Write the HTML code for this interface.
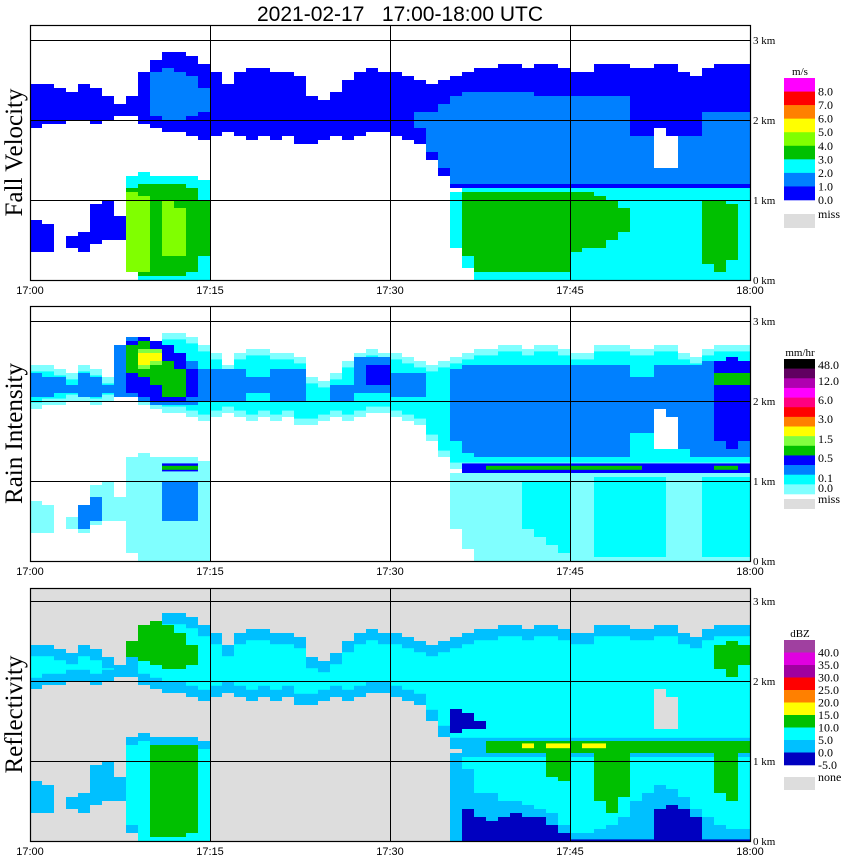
<!DOCTYPE html>
<html><head><meta charset="utf-8"><style>
body{margin:0;background:#fff;}
svg{display:block;}
</style></head><body>
<svg id="chart" width="850" height="868" xmlns="http://www.w3.org/2000/svg">
<text x="400" y="21" text-anchor="middle" font-family="Liberation Sans, sans-serif" font-size="21" fill="#000" xml:space="preserve" style="white-space:pre">2021-02-17   17:00-18:00 UTC</text>
<g id="panels"></g>
</svg>
<script>
// ---- data (minute bins 0..59, heights in km) ----
const timeLabels = ["17:00","17:15","17:30","17:45","18:00"];
const kmLabels = ["0 km","1 km","2 km","3 km"];
const upTop = [2.45,2.45,2.4,2.35,2.45,2.4,2.3,2.2,2.3,2.6, 2.75,2.85,2.85,2.8,2.7,2.6,2.45,2.6,2.65,2.65, 2.6,2.6,2.55,2.3,2.25,2.35,2.5,2.6,2.65,2.6, 2.6,2.55,2.5,2.45,2.5,2.55,2.6,2.65,2.65,2.7, 2.7,2.65,2.7,2.7,2.65,2.6,2.6,2.7,2.7,2.7, 2.65,2.65,2.7,2.7,2.6,2.55,2.65,2.7,2.7,2.7];
const upBot = [1.9,1.95,1.95,2.0,2.0,1.95,2.0,2.05,2.05,1.95, 1.9,1.85,1.85,1.8,1.75,1.8,1.85,1.8,1.75,1.8, 1.75,1.8,1.7,1.7,1.75,1.8,1.75,1.8,1.85,1.85, 1.8,1.75,1.7,1.5,1.3,1.15,1.15,1.15,1.15,1.15, 1.15,1.15,1.15,1.15,1.15,1.15,1.15,1.15,1.15,1.15, 1.15,1.15,1.15,1.15,1.15,1.15,1.15,1.15,1.15,1.15];
const holeTop = [0,0,0,0,0,0,0,0,0,0, 0,0,0,0,0,0,0,0,0,0, 0,0,0,0,0,0,0,0,0,0, 0,0,0,0,0,0,0,0,0,0, 0,0,0,0,0,0,0,0,0,0, 0,0,1.9,1.8,0,0,0,0,0,0];
const holeBot = [0,0,0,0,0,0,0,0,0,0, 0,0,0,0,0,0,0,0,0,0, 0,0,0,0,0,0,0,0,0,0, 0,0,0,0,0,0,0,0,0,0, 0,0,0,0,0,0,0,0,0,0, 0,0,1.4,1.4,0,0,0,0,0,0];
const blobTop = [0.75,0.7,0,0.55,0.6,0.95,1.0,0.8];
const blobBot = [0.35,0.35,0,0.4,0.35,0.45,0.5,0.5];
const loTop = [0,0,0,0,0,0,0,0,1.3,1.35, 1.3,1.3,1.3,1.3,1.25,0,0,0,0,0, 0,0,0,0,0,0,0,0,0,0, 0,0,0,0,0,1.1,1.15,1.15,1.15,1.15, 1.15,1.15,1.15,1.15,1.15,1.15,1.15,1.15,1.15,1.15, 1.15,1.15,1.15,1.15,1.15,1.15,1.15,1.15,1.15,1.15];
const loBot = [0,0,0,0,0,0,0,0,0.1,0, 0,0,0,0,0,0,0,0,0,0, 0,0,0,0,0,0,0,0,0,0, 0,0,0,0,0,0.4,0.15,0,0,0, 0,0,0,0,0,0,0,0,0,0, 0,0,0,0,0,0,0,0,0,0];
// fall velocity
const fvMidTop = [0,0,0,0,0,0,0,0,0,0, 2.6,2.65,2.6,2.55,2.4,0,0,0,0,0, 0,0,0,0,0,0,0,0,0,0, 0,0,2.1,2.1,2.2,2.3,2.35,2.35,2.35,2.35, 2.35,2.35,2.3,2.3,2.3,2.3,2.3,2.3,2.3,2.3, 1.8,1.8,1.8,1.8,1.8,1.8,2.1,2.1,2.1,2.1];
const fvMidBot = [0,0,0,0,0,0,0,0,0,0, 2.05,2.0,2.0,2.05,2.1,0,0,0,0,0, 0,0,0,0,0,0,0,0,0,0, 0,0,1.9,1.6,1.4,1.2,1.2,1.2,1.2,1.2, 1.2,1.2,1.2,1.2,1.2,1.2,1.2,1.2,1.2,1.2, 1.2,1.2,1.2,1.2,1.2,1.2,1.2,1.2,1.2,1.2];
const fvGreenTop = [0,0,0,0,0,0,0,0,1.15,1.2, 1.2,1.2,1.2,1.15,1.0,0,0,0,0,0, 0,0,0,0,0,0,0,0,0,0, 0,0,0,0,0,0,1.1,1.1,1.1,1.1, 1.1,1.1,1.1,1.1,1.1,1.1,1.1,1.05,1.0,0.9, 0,0,0,0,0,0,1.0,1.0,0.95,0];
const fvGreenBot = [0,0,0,0,0,0,0,0,0.1,0.05, 0.05,0.05,0.05,0.1,0.3,0,0,0,0,0, 0,0,0,0,0,0,0,0,0,0, 0,0,0,0,0,0,0.3,0.1,0.1,0.1, 0.1,0.1,0.1,0.1,0.1,0.35,0.4,0.4,0.5,0.6, 0,0,0,0,0,0,0.2,0.1,0.25,0];
const fvLgTop = [0,0,0,0,0,0,0,0,1.1,1.05, 0,1.0,0.9,0,0];
const fvLgBot = [0,0,0,0,0,0,0,0,0.1,0.1, 0,0.3,0.3,0,0];
// rain intensity
const rMidTop = [2.35,2.3,2.3,2.2,2.35,2.3,2.2,2.7,2.8,2.8, 2.75,2.7,2.6,2.5,2.4,2.4,2.4,2.4,2.3,2.3, 2.4,2.4,2.4,0,0,2.2,2.2,2.55,2.55,2.55, 2.35,2.35,2.35,0,0,2.4,2.45,2.45,2.45,2.45, 2.45,2.45,2.45,2.45,2.45,2.45,2.45,2.45,2.45,2.45, 2.3,2.3,2.45,2.45,2.45,2.45,2.5,2.5,2.5,2.5];
const rMidBot = [2.05,2.05,2.1,2.1,2.05,2.05,2.1,2.05,2.05,2.0, 1.95,1.95,1.95,1.95,2.0,2.0,2.0,2.0,2.1,2.1, 2.0,2.0,2.0,0,0,2.0,2.0,2.1,2.1,2.1, 2.05,2.05,2.05,0,0,1.5,1.35,1.3,1.3,1.3, 1.3,1.3,1.3,1.3,1.3,1.3,1.3,1.3,1.3,1.3, 1.6,1.6,1.6,1.6,1.4,1.3,1.3,1.3,1.3,1.3];
const rBlueTop = [0,0,0,0,0,0,0,0,2.75,2.8, 2.75,2.7,2.6,2.4,0,0,0,0,0,0, 0,0,0,0,0,0,0,0,2.45,2.45, 0,0,0,0,0,0,0,0,0,0, 0,0,0,0,0,0,0,0,0,0, 0,0,0,0,0,0,0,2.5,2.55,2.5];
const rBlueBot = [0,0,0,0,0,0,0,0,2.1,2.05, 2.0,2.0,2.0,2.05,0,0,0,0,0,0, 0,0,0,0,0,0,0,0,2.2,2.2, 0,0,0,0,0,0,0,0,0,0, 0,0,0,0,0,0,0,0,0,0, 0,0,0,0,0,0,0,1.5,1.4,1.5];
const rGreenTop = [0,0,0,0,0,0,0,0,2.7,2.75, 2.6,2.5,2.4,0,0,0,0,0,0,0, 0,0,0,0,0,0,0,0,0,0, 0,0,0,0,0,0,0,0,0,0, 0,0,0,0,0,0,0,0,0,0, 0,0,0,0,0,0,0,2.35,2.35,2.35];
const rGreenBot = [0,0,0,0,0,0,0,0,2.35,2.3, 2.2,2.05,2.05,0,0,0,0,0,0,0, 0,0,0,0,0,0,0,0,0,0, 0,0,0,0,0,0,0,0,0,0, 0,0,0,0,0,0,0,0,0,0, 0,0,0,0,0,0,0,2.2,2.2,2.2];
const rYellowTop = [0,0,0,0,0,0,0,0,0,2.6,2.6];
const rYellowBot = [0,0,0,0,0,0,0,0,0,2.45,2.5];
const lineTop = [0,0,0,0,0,0,0,0,0,0, 0,1.22,1.22,1.22,0,0,0,0,0,0, 0,0,0,0,0,0,0,0,0,0, 0,0,0,0,0,0,1.22,1.22,1.22,1.22, 1.22,1.22,1.22,1.22,1.22,1.22,1.22,1.22,1.22,1.22, 1.22,1.22,1.22,1.22,1.22,1.22,1.22,1.22,1.22,1.22];
const lineBot = [0,0,0,0,0,0,0,0,0,0, 0,1.12,1.12,1.12,0,0,0,0,0,0, 0,0,0,0,0,0,0,0,0,0, 0,0,0,0,0,0,1.1,1.1,1.1,1.1, 1.1,1.1,1.1,1.1,1.1,1.1,1.1,1.1,1.1,1.1, 1.1,1.1,1.1,1.1,1.1,1.1,1.1,1.1,1.1,1.1];
const lineCoreTop = [0,0,0,0,0,0,0,0,0,0, 0,1.19,1.19,1.19,0,0,0,0,0,0, 0,0,0,0,0,0,0,0,0,0, 0,0,0,0,0,0,0,0,1.19,1.19, 1.19,1.19,1.19,1.19,1.19,1.19,1.19,1.19,1.19,1.19, 1.19,0,0,0,0,0,0,1.19,1.19,0];
const lineCoreBot = [0,0,0,0,0,0,0,0,0,0, 0,1.14,1.14,1.14,0,0,0,0,0,0, 0,0,0,0,0,0,0,0,0,0, 0,0,0,0,0,0,0,0,1.14,1.14, 1.14,1.14,1.14,1.14,1.14,1.14,1.14,1.14,1.14,1.14, 1.14,0,0,0,0,0,0,1.14,1.14,0];
const rLoCyanTop = [0,0,0,0,0,0,0,0,0,0, 0,0,0,0,0,0,0,0,0,0, 0,0,0,0,0,0,0,0,0,0, 0,0,0,0,0,0,0,0,0,0, 0,1.0,1.0,1.0,1.0,0,0,1.05,1.05,1.05, 1.05,1.05,1.05,0,0,0,1.05,1.05,1.05,1.05];
const rLoCyanBot = [0,0,0,0,0,0,0,0,0,0, 0,0,0,0,0,0,0,0,0,0, 0,0,0,0,0,0,0,0,0,0, 0,0,0,0,0,0,0,0,0,0, 0,0.4,0.3,0.2,0.1,0,0,0.05,0.05,0.05, 0.05,0.05,0.05,0,0,0,0.05,0.05,0.05,0.05];
const rLoMidTop = [0,0,0,0,0.7,0.8,0,0,0,0, 0,1.0,1.0,1.0,0];
const rLoMidBot = [0,0,0,0,0.4,0.5,0,0,0,0, 0,0.5,0.5,0.5,0];
// reflectivity
const zDkTop = [0,0,0,0,0,0,0,0,0,0, 0,0,0,0,0,0,0,0,0,0, 0,0,0,0,0,0,0,0,0,0, 0,0,0,0,0,1.65,1.6,1.5,0,0, 0,0,0,0,0,0,0,0,0,0, 0,0,0,0,0,0,0,0,0,0];
const zDkBot = [0,0,0,0,0,0,0,0,0,0, 0,0,0,0,0,0,0,0,0,0, 0,0,0,0,0,0,0,0,0,0, 0,0,0,0,0,1.35,1.4,1.4,0,0, 0,0,0,0,0,0,0,0,0,0, 0,0,0,0,0,0,0,0,0,0];
const zGreenUpTop = [0,0,0,0,0,0,0,0,2.5,2.7, 2.75,2.7,2.6,2.45,0,0,0,0,0,0, 0,0,0,0,0,0,0,0,0,0, 0,0,0,0,0,0,0,0,0,0, 0,0,0,0,0,0,0,0,0,0, 0,0,0,0,0,0,0,2.45,2.5,2.45];
const zGreenUpBot = [0,0,0,0,0,0,0,0,2.3,2.25, 2.2,2.15,2.15,2.2,0,0,0,0,0,0, 0,0,0,0,0,0,0,0,0,0, 0,0,0,0,0,0,0,0,0,0, 0,0,0,0,0,0,0,0,0,0, 0,0,0,0,0,0,0,2.15,2.05,2.2];
const zGreenLoTop = [0,0,0,0,0,0,0,0,0,0, 1.2,1.2,1.2,1.2,0,0,0,0,0,0, 0,0,0,0,0,0,0,0,0,0, 0,0,0,0,0,0,0,0,1.25,1.25, 1.25,1.25,1.25,1.25,1.25,1.25,1.25,1.25,1.25,1.25, 1.25,1.25,1.25,1.25,1.25,1.25,1.25,1.25,1.25,1.25];
const zGreenLoBot = [0,0,0,0,0,0,0,0,0,0, 0.05,0.05,0.05,0.1,0,0,0,0,0,0, 0,0,0,0,0,0,0,0,0,0, 0,0,0,0,0,0,0,0,1.1,1.1, 1.1,1.1,1.1,0.8,0.75,1.1,1.1,0.5,0.35,0.55, 1.1,1.1,1.1,1.1,1.1,1.1,1.1,0.6,0.5,1.1];
const zYellowTop = [0,0,0,0,0,0,0,0,0,0, 0,0,0,0,0,0,0,0,0,0, 0,0,0,0,0,0,0,0,0,0, 0,0,0,0,0,0,0,0,0,0, 0,1.22,0,1.22,1.22,0,1.22,1.22,0,0];
const zYellowBot = [0,0,0,0,0,0,0,0,0,0, 0,0,0,0,0,0,0,0,0,0, 0,0,0,0,0,0,0,0,0,0, 0,0,0,0,0,0,0,0,0,0, 0,1.16,0,1.16,1.16,0,1.16,1.16,0,0];
const zLbLoTop = [0,0,0,0,0,0,0,0,0,0, 0,0,0,0,0,0,0,0,0,0, 0,0,0,0,0,0,0,0,0,0, 0,0,0,0,0,1.1,0.9,0.6,0.6,0.5, 0.5,0.45,0.4,0.35,0.2,0.1,0.1,0.15,0.2,0.3, 0.5,0.6,0.7,0.65,0.55,0.4,0.3,0.2,0.15,0.15];
const zDkLoTop = [0,0,0,0,0,0,0,0,0,0, 0,0,0,0,0,0,0,0,0,0, 0,0,0,0,0,0,0,0,0,0, 0,0,0,0,0,0,0.4,0.3,0.25,0.3, 0.35,0.3,0.3,0.2,0.1,0.02,0.02,0.02,0.02,0.02, 0.02,0.02,0.4,0.45,0.4,0.3,0.02,0.02,0.02,0.02];

// ---- rendering ----
const NS = "http://www.w3.org/2000/svg";
const root = document.getElementById('panels');
const X0 = 30, X1 = 750, BIN = 12, KM = 80;
function xAt(m){ return X0 + m*BIN; }
function el(tag, attrs, parent){ const e = document.createElementNS(NS, tag); for(const k in attrs) e.setAttribute(k, attrs[k]); parent.appendChild(e); return e; }

function layer(g, zero, color, tops, bots, inset, name){
  const grp = el('g', {}, g);
  
  
  for(let m=0;m<tops.length;m++){
    const t = tops[m] - inset, b = bots[m] + (bots[m] > 0.01 ? inset : 0);
    if(!(tops[m] > 0) || t <= b) continue;
    const r = el('rect', {x:xAt(m), y:zero - t*KM, width:BIN, height:(t-b)*KM, fill:color}, grp);
    
    
  }
}
function floorArr(n){ return new Array(n).fill(0); }

const panels = [
  {name:'fall-velocity', title:'Fall Velocity', top:25, zero:280, unit:'m/s', bg:null,
   legend:{y0:78, y1:200, colors:['#ff00ff','#ff0000','#ff8000','#ffff00','#80ff00','#00c000','#00ffff','#0080ff','#0000ff'],
     labels:['8.0','7.0','6.0','5.0','4.0','3.0','2.0','1.0','0.0'], miss:[214,228], missText:'miss'}},
  {name:'rain-intensity', title:'Rain Intensity', top:306, zero:561, unit:'mm/hr', bg:null,
   legend:{y0:359, y1:494, colors:['#000000','#600060','#b000b0','#ff00ff','#ff0080','#ff0000','#ff8000','#ffff00','#80ff40','#00c000','#0000ff','#0080ff','#00ffff','#80ffff'],
     labels:[['48.0',369],['12.0',385],['6.0',404],['3.0',423],['1.5',443],['0.5',462],['0.1',482],['0.0',492]], miss:[499,509], missText:'miss'}},
  {name:'reflectivity', title:'Reflectivity', top:588, zero:841, unit:'dBZ', bg:'#dddddd',
   legend:{y0:640, y1:765, colors:['#a040a0','#e000e0','#a000a0','#ff0000','#ff8000','#ffff00','#00c000','#00ffff','#00c0ff','#0000c0'],
     labels:['40.0','35.0','30.0','25.0','20.0','15.0','10.0','5.0','0.0','-5.0'], miss:[777,790], missText:'none'}}
];

panels.forEach((p, pi) => {
  const g = el('g', {}, root);
  
  
  const z = p.zero;
  if(p.bg){ const bgr = el('rect', {x:X0, y:p.top, width:X1-X0, height:z-p.top, fill:p.bg}, g);
      }
  const blobT = blobTop.concat(floorArr(52)), blobB = blobBot.concat(floorArr(52));
  if(pi === 0){
    layer(g, z, '#0000ff', upTop, upBot, 0, 'upper-layer');
    layer(g, z, '#0080ff', fvMidTop, fvMidBot, 0, 'upper-core');
    layer(g, z, '#ffffff', holeTop, holeBot, 0, 'gap');
    layer(g, z, '#0000ff', blobT, blobB, 0, 'low-blobs');
    layer(g, z, '#00ffff', loTop, loBot, 0, 'lower-layer');
    layer(g, z, '#00c000', fvGreenTop, fvGreenBot, 0, 'lower-core');
    layer(g, z, '#80ff00', fvLgTop, fvLgBot, 0, 'lower-core-fast');
  } else if(pi === 1){
    layer(g, z, '#80ffff', upTop, upBot, 0, 'upper-layer');
    layer(g, z, '#00ffff', upTop, upBot, 0.08, 'upper-layer-inner');
    layer(g, z, '#0080ff', rMidTop, rMidBot, 0, 'upper-core');
    layer(g, z, '#0000ff', rBlueTop, rBlueBot, 0, 'upper-core-strong');
    layer(g, z, '#00c000', rGreenTop, rGreenBot, 0, 'upper-core-heavy');
    layer(g, z, '#80ff40', rYellowTop.map(v=>v?v+0.05:0), rYellowBot.map(v=>v?v-0.05:0), 0, 'upper-core-lg');
    layer(g, z, '#ffff00', rYellowTop, rYellowBot, 0, 'upper-core-peak');
    layer(g, z, '#ffffff', holeTop, holeBot, 0, 'gap');
    layer(g, z, '#80ffff', blobT, blobB, 0, 'low-blobs');
    layer(g, z, '#80ffff', loTop, loBot, 0, 'lower-layer');
    layer(g, z, '#00ffff', rLoCyanTop, rLoCyanBot, 0, 'lower-core');
    layer(g, z, '#0080ff', rLoMidTop, rLoMidBot, 0, 'lower-core-strong');
    layer(g, z, '#0000ff', lineTop, lineBot, 0, 'melting-line');
    layer(g, z, '#00c000', lineCoreTop, lineCoreBot, 0, 'melting-line-core');
  } else {
    layer(g, z, '#00c0ff', upTop, upBot, 0, 'upper-layer');
    layer(g, z, '#00ffff', upTop, upBot, 0.14, 'upper-layer-inner');
    layer(g, z, '#00c000', zGreenUpTop, zGreenUpBot, 0, 'upper-core');
    layer(g, z, '#0000c0', zDkTop, zDkBot, 0, 'upper-edge');
    layer(g, z, '#dddddd', holeTop, holeBot, 0, 'gap');
    layer(g, z, '#00c0ff', blobT, blobB, 0, 'low-blobs');
    layer(g, z, '#00c0ff', loTop, loBot, 0, 'lower-layer');
    layer(g, z, '#00ffff', loTop, loBot, 0.1, 'lower-layer-inner');
    layer(g, z, '#00c0ff', zLbLoTop, floorArr(60), 0, 'near-ground');
    layer(g, z, '#0000c0', zDkLoTop, floorArr(60), 0, 'near-ground-weak');
    layer(g, z, '#00c000', zGreenLoTop, zGreenLoBot, 0, 'bright-band');
    layer(g, z, '#ffff00', zYellowTop, zYellowBot, 0, 'bright-band-peak');
  }
  // grid
  [1,2,3].forEach(k => { const l = el('line', {x1:X0, x2:X1, y1:z-k*KM+0.5, y2:z-k*KM+0.5, stroke:'#000', 'stroke-width':1}, g);
      });
  [1,2,3].forEach(k => { const xx = X0 + k*180 + 0.5; const l = el('line', {x1:xx, x2:xx, y1:p.top, y2:z, stroke:'#000', 'stroke-width':1}, g);
      });
  const fr = el('rect', {x:X0+0.5, y:p.top+0.5, width:X1-X0, height:z-p.top, fill:'none', stroke:'#000', 'stroke-width':1.2}, g);
   
  // labels
  timeLabels.forEach((t,i) => { const tx = el('text', {x:X0+i*180, y:z+14, 'text-anchor':'middle', 'font-family':'Liberation Sans, sans-serif', 'font-size':11, fill:'#000'}, g);
    tx.textContent = t;   });
  kmLabels.forEach((t,i) => { const tx = el('text', {x:753, y:z-i*KM+4, 'font-family':'Liberation Serif, serif', 'font-size':11, fill:'#000'}, g);
    tx.textContent = t;   });
  const cy = (p.top + z)/2;
  const tt = el('text', {x:0, y:0, transform:`translate(22,${cy}) rotate(-90)`, 'text-anchor':'middle', 'font-family':'Liberation Serif, serif', 'font-size':25, fill:'#000'}, g);
  tt.textContent = p.title;  
  // legend
  const L = p.legend, lg = el('g', {}, g);
   
  const h = (L.y1 - L.y0)/L.colors.length;
  const ut = el('text', {x:800, y:L.y0-3, 'text-anchor':'middle', 'font-family':'Liberation Serif, serif', 'font-size':11, fill:'#000'}, lg);
  ut.textContent = p.unit;  
  L.colors.forEach((c,i) => { const r = el('rect', {x:784, y:L.y0+i*h, width:31, height:h+0.3, fill:c}, lg);
      });
  L.labels.forEach((lb,i) => {
    let txt, yy;
    if(Array.isArray(lb)){ txt = lb[0]; yy = lb[1]; } else { txt = lb; yy = L.y0 + (i+1)*h + 4; }
    const tx = el('text', {x:818, y:yy, 'font-family':'Liberation Serif, serif', 'font-size':12, fill:'#000'}, lg);
    tx.textContent = txt;  
  });
  const mr = el('rect', {x:784, y:L.miss[0], width:31, height:L.miss[1]-L.miss[0], fill:'#dddddd'}, lg);
   
  const mt = el('text', {x:818, y:L.miss[0]+4, 'font-family':'Liberation Serif, serif', 'font-size':12, fill:'#000'}, lg);
  mt.textContent = L.missText;  
});
</script>
</body></html>
